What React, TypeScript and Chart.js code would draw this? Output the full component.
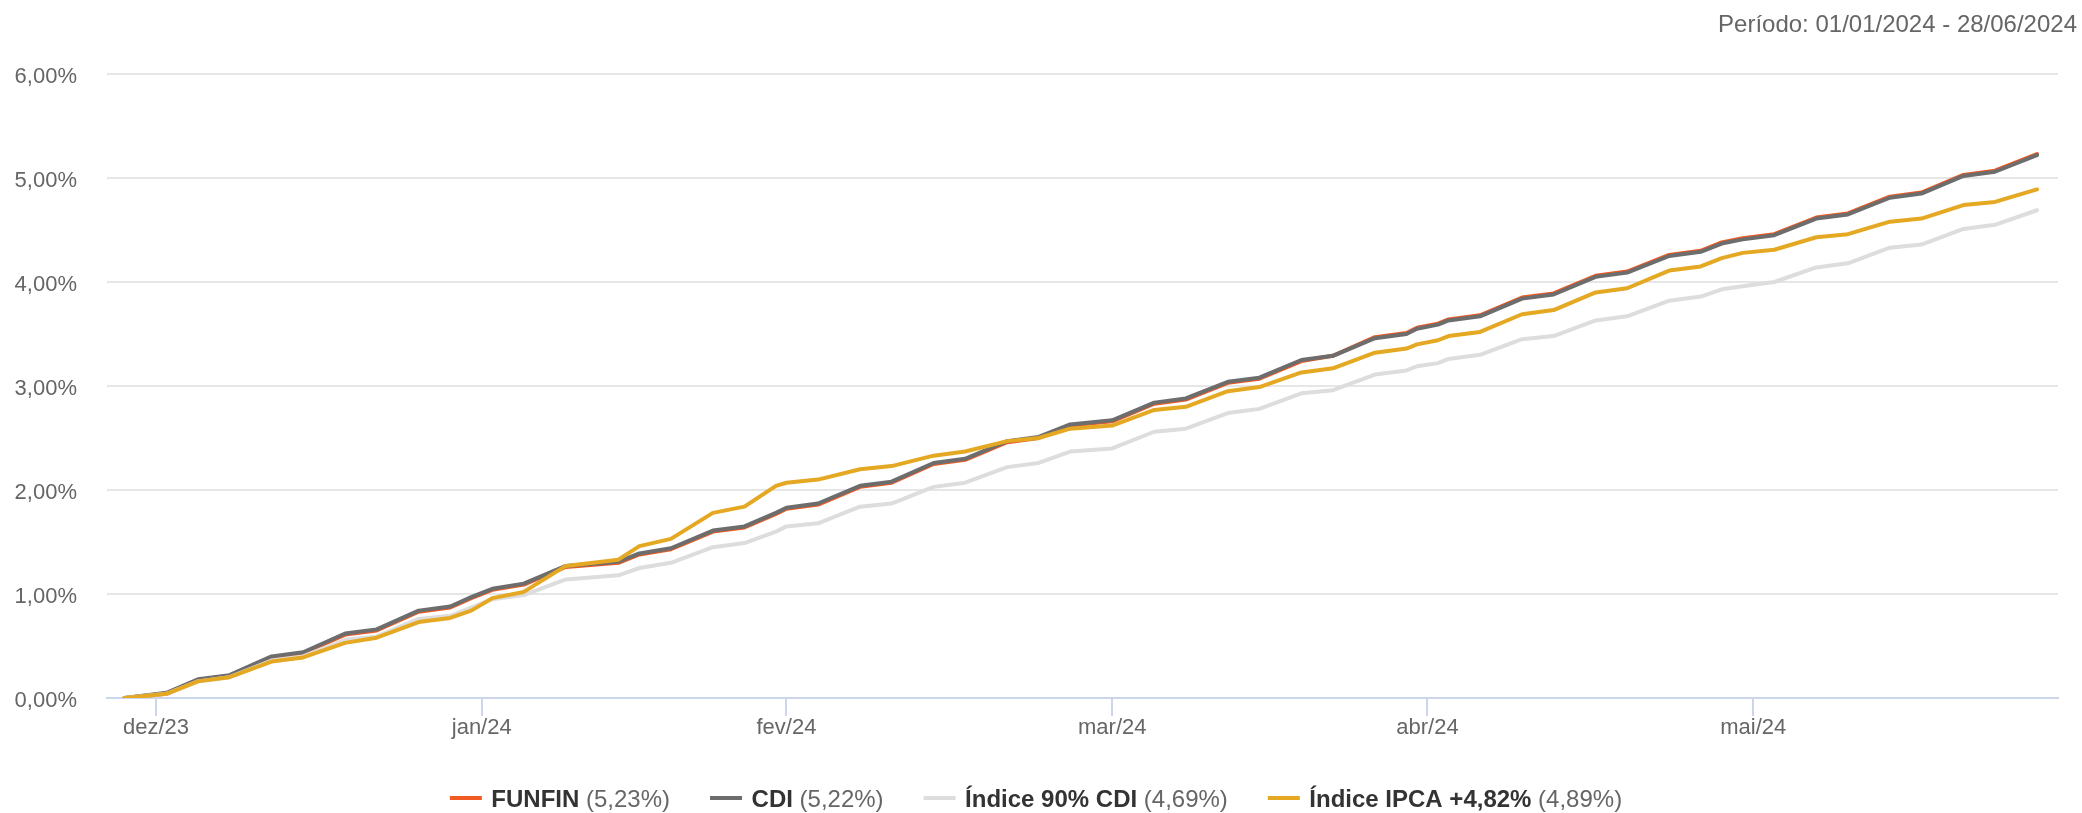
import React, { useEffect, useRef } from 'react';
import { Chart, registerables } from 'chart.js';

Chart.register(...registerables);

const FONT = '"Liberation Sans", Arial, Helvetica, sans-serif';

// Vertex dates of the curves (business-day series: Fridays, Mondays, holiday edges)
const dates = [
  '2023-12-29',
  '2024-01-02', '2024-01-05',
  '2024-01-08', '2024-01-12',
  '2024-01-15', '2024-01-19',
  '2024-01-22', '2024-01-26',
  '2024-01-29', '2024-01-31', '2024-02-02',
  '2024-02-05', '2024-02-09',
  '2024-02-14', '2024-02-16',
  '2024-02-19', '2024-02-23',
  '2024-02-26', '2024-02-29', '2024-03-01',
  '2024-03-04', '2024-03-08',
  '2024-03-11', '2024-03-15',
  '2024-03-18', '2024-03-22',
  '2024-03-25', '2024-03-28',
  '2024-04-01', '2024-04-05',
  '2024-04-08', '2024-04-12',
  '2024-04-15', '2024-04-19',
  '2024-04-22', '2024-04-26',
  '2024-04-29', '2024-04-30', '2024-05-02', '2024-05-03',
  '2024-05-06', '2024-05-10',
  '2024-05-13', '2024-05-17',
  '2024-05-20', '2024-05-24',
  '2024-05-27', '2024-05-29', '2024-05-31',
  '2024-06-03', '2024-06-07',
  '2024-06-10', '2024-06-14',
  '2024-06-17', '2024-06-21',
  '2024-06-24', '2024-06-28',
];

const funfin = [
  0.00, 0.04, 0.17, 0.21, 0.39, 0.43, 0.61, 0.65, 0.83, 0.87, 0.96, 1.04,
  1.09, 1.26, 1.30, 1.38, 1.43, 1.60, 1.64, 1.77, 1.82, 1.86, 2.03, 2.07,
  2.25, 2.29, 2.46, 2.50, 2.62, 2.66, 2.83, 2.87, 3.03, 3.07, 3.24, 3.29,
  3.47, 3.51, 3.56, 3.60, 3.64, 3.68, 3.85, 3.89, 4.06, 4.10, 4.26, 4.30,
  4.38, 4.42, 4.46, 4.62, 4.66, 4.82, 4.86, 5.03, 5.07, 5.23,
];

const cdi = [
  0.00, 0.05, 0.18, 0.22, 0.40, 0.44, 0.62, 0.66, 0.84, 0.88, 0.97, 1.05,
  1.10, 1.27, 1.31, 1.39, 1.44, 1.61, 1.65, 1.78, 1.83, 1.87, 2.04, 2.08,
  2.26, 2.30, 2.47, 2.51, 2.63, 2.67, 2.84, 2.88, 3.04, 3.08, 3.25, 3.29,
  3.46, 3.50, 3.55, 3.59, 3.63, 3.67, 3.84, 3.88, 4.05, 4.09, 4.25, 4.29,
  4.37, 4.41, 4.45, 4.61, 4.65, 4.81, 4.85, 5.02, 5.06, 5.22,
];

const cdi90 = [
  0.00, 0.04, 0.16, 0.20, 0.36, 0.40, 0.56, 0.59, 0.76, 0.79, 0.87, 0.95,
  0.99, 1.14, 1.18, 1.25, 1.30, 1.45, 1.49, 1.60, 1.65, 1.68, 1.84, 1.87,
  2.03, 2.07, 2.22, 2.26, 2.37, 2.40, 2.56, 2.59, 2.74, 2.78, 2.93, 2.96,
  3.11, 3.15, 3.19, 3.22, 3.26, 3.30, 3.45, 3.48, 3.63, 3.67, 3.82, 3.86,
  3.93, 3.96, 4.00, 4.14, 4.18, 4.33, 4.36, 4.51, 4.55, 4.69,
];

const ipca = [
  0.00, 0.04, 0.16, 0.20, 0.35, 0.39, 0.53, 0.58, 0.73, 0.77, 0.84, 0.96,
  1.02, 1.27, 1.33, 1.46, 1.53, 1.78, 1.84, 2.04, 2.07, 2.10, 2.20, 2.23,
  2.33, 2.37, 2.47, 2.50, 2.59, 2.62, 2.77, 2.80, 2.95, 2.99, 3.13, 3.17,
  3.32, 3.36, 3.40, 3.44, 3.48, 3.52, 3.69, 3.73, 3.90, 3.94, 4.11, 4.15,
  4.23, 4.28, 4.31, 4.43, 4.46, 4.58, 4.61, 4.74, 4.77, 4.89,
];

const seriesNames = ['FUNFIN', 'CDI', 'Índice 90% CDI', 'Índice IPCA +4,82%'];
const seriesTotals = ['5,23%', '5,22%', '4,69%', '4,89%'];
const seriesColors = ['#f15a22', '#6d6d6d', '#dddddd', '#e4a823'];

const tickDates = ['2024-01-01', '2024-02-01', '2024-03-01', '2024-04-01', '2024-05-01', '2024-06-01'];
const tickLabels = ['dez/23', 'jan/24', 'fev/24', 'mar/24', 'abr/24', 'mai/24'];
const yTicks = [0, 1, 2, 3, 4, 5, 6];
const periodText = 'Período: 01/01/2024 - 28/06/2024';

const ORIGIN = Date.UTC(2024, 0, 1);
const toDay = (s: string) => {
  const [y, m, d] = s.split('-').map(Number);
  return (Date.UTC(y, m - 1, d) - ORIGIN) / 86400000;
};
const tickDays = tickDates.map(toDay);

const X_MIN = -4.66;
const X_MAX = 181.0;

const overlayPlugin = {
  id: 'overlay',
  afterDraw(chart: any) {
    const ctx = chart.ctx as CanvasRenderingContext2D;
    ctx.save();
    // period text
    ctx.font = `24px ${FONT}`;
    ctx.fillStyle = '#666666';
    ctx.textAlign = 'right';
    ctx.textBaseline = 'alphabetic';
    ctx.fillText(periodText, 2077, 32);

    // legend
    const symW = 32;
    const symPad = 9.5;
    const dist = 40;
    const items = seriesNames.map((name, i) => {
      ctx.font = `bold 24px ${FONT}`;
      const wb = ctx.measureText(name).width;
      ctx.font = `24px ${FONT}`;
      const rest = ` (${seriesTotals[i]})`;
      const wr = ctx.measureText(rest).width;
      return { name, rest, wb, wr, color: seriesColors[i], w: symW + symPad + wb + wr };
    });
    const total = items.reduce((a, it) => a + it.w, 0) + dist * (items.length - 1);
    let x = chart.width / 2 - 5 - total / 2;
    const yLine = 798;
    const yText = 806.5;
    ctx.textAlign = 'left';
    items.forEach((it) => {
      ctx.strokeStyle = it.color;
      ctx.lineWidth = 4;
      ctx.lineCap = 'butt';
      ctx.beginPath();
      ctx.moveTo(x, yLine);
      ctx.lineTo(x + symW, yLine);
      ctx.stroke();
      let tx = x + symW + symPad;
      ctx.font = `bold 24px ${FONT}`;
      ctx.fillStyle = '#333333';
      ctx.fillText(it.name, tx, yText);
      tx += it.wb;
      ctx.font = `24px ${FONT}`;
      ctx.fillStyle = '#666666';
      ctx.fillText(it.rest, tx, yText);
      x += it.w + dist;
    });
    ctx.restore();
  },
};

export default function App() {
  const canvasRef = useRef<HTMLCanvasElement | null>(null);

  useEffect(() => {
    const canvas = canvasRef.current;
    if (!canvas) return;
    const seriesValues = [funfin, cdi, cdi90, ipca];
    const datasets = seriesValues.map((vals, si) => ({
      label: seriesNames[si],
      data: dates.map((d, i) => ({ x: toDay(d), y: vals[i] })),
      borderColor: seriesColors[si],
      backgroundColor: seriesColors[si],
      borderWidth: 4,
      pointRadius: 0,
      tension: 0,
      fill: false,
      borderCapStyle: 'round' as const,
      borderJoinStyle: 'round' as const,
      order: 4 - si,
    }));

    const chart = new Chart(canvas, {
      type: 'line',
      data: { datasets },
      options: {
        animation: false,
        responsive: false,
        devicePixelRatio: 1,
        layout: { padding: { top: 74, right: 24, bottom: 0, left: 0 } },
        plugins: {
          legend: { display: false },
          title: { display: false },
          tooltip: { enabled: false },
        },
        scales: {
          x: {
            type: 'linear',
            min: X_MIN,
            max: X_MAX,
            afterBuildTicks: (s: any) => {
              s.ticks = tickDays.map((v) => ({ value: v }));
            },
            afterFit: (s: any) => {
              s.height = 115;
            },
            ticks: {
              autoSkip: false,
              maxRotation: 0,
              minRotation: 0,
              padding: 1,
              color: '#666666',
              font: { family: FONT, size: 22, lineHeight: 1 },
              callback: (v: any) => {
                const i = tickDays.indexOf(Number(v));
                return i >= 0 ? tickLabels[i] : '';
              },
            },
            grid: {
              drawOnChartArea: false,
              drawTicks: true,
              tickLength: 18,
              color: '#ccd6eb',
              lineWidth: 2,
            },
            border: { display: true, color: '#ccd6eb', width: 2 },
          },
          y: {
            type: 'linear',
            min: 0,
            max: 6,
            afterBuildTicks: (s: any) => {
              s.ticks = yTicks.map((v) => ({ value: v }));
            },
            afterFit: (s: any) => {
              s.width = 107;
            },
            ticks: {
              padding: 30,
              labelOffset: 2.5,
              color: '#666666',
              font: { family: FONT, size: 22 },
              callback: (v: any) => Number(v).toFixed(2).replace('.', ',') + '%',
            },
            grid: {
              color: (c: any) => (c.tick && c.tick.value === 0 ? '#ccd6eb' : '#e6e6e6'),
              lineWidth: 2,
              drawTicks: false,
            },
            border: { display: false },
          },
        },
      },
      plugins: [overlayPlugin],
    });
    return () => chart.destroy();
  }, []);

  return (
    <div style={{ position: 'fixed', left: 0, top: 0, width: 2082, height: 813, background: '#ffffff' }}>
      <canvas ref={canvasRef} width={2082} height={813} style={{ display: 'block', width: 2082, height: 813 }} />
    </div>
  );
}
